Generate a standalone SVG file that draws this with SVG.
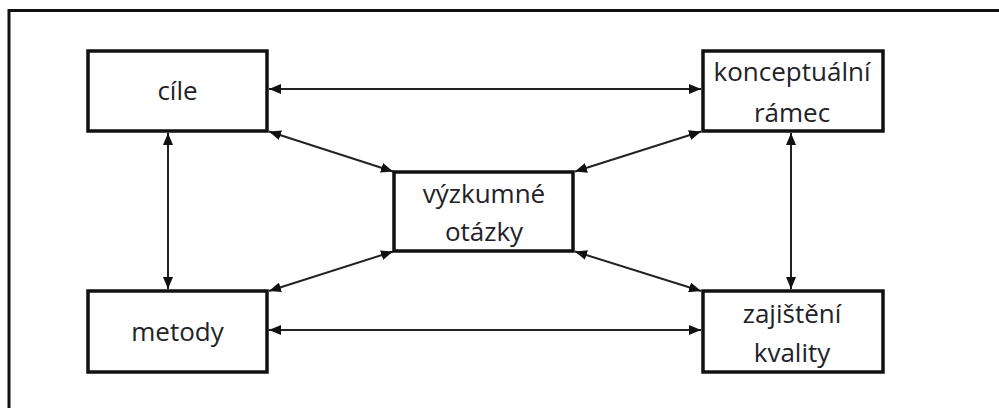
<svg xmlns="http://www.w3.org/2000/svg" width="999" height="408" viewBox="0 0 999 408">
<defs>
<marker id="ah" viewBox="0 0 12 10" refX="12" refY="5" markerWidth="12" markerHeight="10" markerUnits="userSpaceOnUse" orient="auto-start-reverse">
<path d="M0,0 L12,5 L0,10 z" fill="#111"/>
</marker>
</defs>
<style>
.box{fill:#fff;stroke:#111;stroke-width:3.5}
.lbl{font-family:"Open Sans","Liberation Sans",sans-serif;font-size:26px;fill:#222228;text-anchor:middle}
.con line{stroke:#222;stroke-width:2;marker-start:url(#ah);marker-end:url(#ah)}
</style>
<rect width="999" height="408" fill="#fff"/>
<path d="M9,408 V10.5 H999" fill="none" stroke="#111" stroke-width="3"/>
<g id="connectors" class="con">
<line x1="269" y1="89" x2="701" y2="89"/>
<line x1="269" y1="330" x2="701" y2="330"/>
<line x1="168" y1="133" x2="168" y2="289"/>
<line x1="791" y1="133" x2="791" y2="289"/>
<line x1="269" y1="131.5" x2="393" y2="171.5"/>
<line x1="701" y1="131.5" x2="575" y2="171.5"/>
<line x1="269" y1="291" x2="393" y2="251.5"/>
<line x1="701" y1="291" x2="575" y2="251.5"/>
</g>
<g id="cile">
<rect class="box" x="88" y="51" width="179" height="80"/>
<text class="lbl" x="177.5" y="100">cíle</text>
</g>
<g id="konceptualni-ramec">
<rect class="box" x="703" y="51" width="180" height="80"/>
<text class="lbl" x="792" y="81">konceptuální</text>
<text class="lbl" x="792" y="122">rámec</text>
</g>
<g id="vyzkumne-otazky">
<rect class="box" x="394" y="172" width="179" height="79"/>
<text class="lbl" x="484" y="203">výzkumné</text>
<text class="lbl" x="484" y="241">otázky</text>
</g>
<g id="metody">
<rect class="box" x="88" y="291" width="179" height="81"/>
<text class="lbl" x="177.5" y="341">metody</text>
</g>
<g id="zajisteni-kvality">
<rect class="box" x="703" y="291" width="180" height="81"/>
<text class="lbl" x="792" y="323">zajištění</text>
<text class="lbl" x="792" y="362">kvality</text>
</g>
</svg>
